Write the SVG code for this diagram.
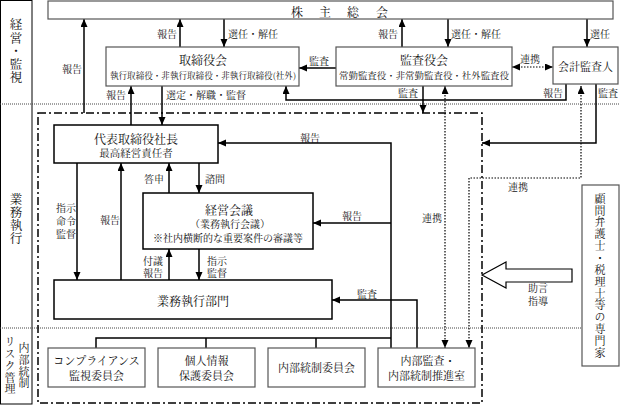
<svg xmlns="http://www.w3.org/2000/svg" width="620" height="406" viewBox="0 0 620 406">
<style>
.box{fill:#fff;stroke:#555;stroke-width:1.2}
.bb{fill:#fff;stroke:#000;stroke-width:1.5}
.c{fill:none;stroke:#000;stroke-width:1.5}
.d{fill:none;stroke:#000;stroke-width:1.2;stroke-dasharray:1.5 1.5}
.sep{fill:none;stroke:#444;stroke-width:1;stroke-dasharray:1 1}
.frame{fill:none;stroke:#000;stroke-width:1.5;stroke-dasharray:8 3 2 3}
text{font-family:"Noto Serif CJK JP","Noto Sans CJK JP","Noto Sans CJK SC",sans-serif;fill:#111;text-anchor:middle;dominant-baseline:central}
.vt{writing-mode:vertical-rl}
.l{font-size:10px}
.t{font-size:12px}
.s{font-size:9px}
.m{font-size:11px}
.v{font-size:12.5px}
</style>
<defs>
<marker id="a" markerUnits="userSpaceOnUse" markerWidth="9" markerHeight="9" refX="8" refY="3.5" orient="auto-start-reverse"><path d="M0,0 L8,3.5 L0,7 z" fill="#000"/></marker>
</defs>

<g id="background">
<rect x="0.5" y="0.5" width="31.5" height="403.5" fill="none" stroke="#000" stroke-width="1"/>
<line class="sep" x1="0" y1="104" x2="620" y2="104"/>
<line class="sep" x1="0" y1="328" x2="582" y2="328"/>
<path class="frame" d="M38,113 H482 V403 H38 Z"/>
<text class="v vt" x="16" y="51.5" style="letter-spacing:0.75px">経営・監視</text>
<text class="v vt" x="16" y="219" style="letter-spacing:0.3px">業務執行</text>
<text class="m vt" x="24" y="366" style="letter-spacing:0.7px">内部統制</text>
<text class="m vt" x="10" y="366" style="letter-spacing:0.75px">リスク管理</text>
</g>

<g id="connectors">
<path class="c" d="M180,47 V19" marker-end="url(#a)"/>
<path class="c" d="M224,19 V47" marker-end="url(#a)"/>
<path class="c" d="M84,113 V19" marker-end="url(#a)"/>
<path class="c" d="M131,125 V86" marker-end="url(#a)"/>
<path class="c" d="M162,86 V125" marker-end="url(#a)"/>
<path class="c" d="M336,68 H299" marker-end="url(#a)"/>
<path class="c" d="M402,47 V19" marker-end="url(#a)"/>
<path class="c" d="M448,19 V47" marker-end="url(#a)"/>
<path class="c" d="M587,19 V47" marker-end="url(#a)"/>
<path class="d" d="M512,67 H553" marker-start="url(#a)" marker-end="url(#a)"/>
<path class="c" d="M566,84 V100 H286 V86" marker-end="url(#a)"/>
<path class="c" d="M423,86 V113" marker-end="url(#a)"/>
<path class="c" d="M596,84 V143 H482" marker-end="url(#a)"/>
<path class="d" d="M445,86 V348" marker-start="url(#a)" marker-end="url(#a)"/>
<path class="d" d="M581,86 V178 H469 V348" marker-start="url(#a)" marker-end="url(#a)"/>
<path class="c" d="M77,163 V280" marker-end="url(#a)"/>
<path class="c" d="M121,280 V163" marker-end="url(#a)"/>
<path class="c" d="M169,193 V163" marker-end="url(#a)"/>
<path class="c" d="M199,163 V193" marker-end="url(#a)"/>
<path class="c" d="M169,280 V249" marker-end="url(#a)"/>
<path class="c" d="M199,249 V280" marker-end="url(#a)"/>
<path class="c" d="M391,349 V143 H218" marker-end="url(#a)"/>
<path class="c" d="M391,223 H313" marker-end="url(#a)"/>
<path class="c" d="M417,348 V300 H332" marker-end="url(#a)"/>
<path class="c" d="M96,349 V338 H391 M206,338 V349 M316,338 V349"/>
<polygon points="482,275 506,262 506,269 572,269 572,282 506,282 506,288" fill="#fff" stroke="#000" stroke-width="1.2"/>
<text class="l" x="167" y="33">報告</text>
<text class="l" x="228" y="33" style="text-anchor:start">選任・解任</text>
<text class="l" x="72" y="68">報告</text>
<text class="l" x="116" y="94">報告</text>
<text class="l" x="166" y="94" style="text-anchor:start">選定・解職・監督</text>
<text class="l" x="319" y="60">監査</text>
<text class="l" x="388" y="33">報告</text>
<text class="l" x="451" y="33" style="text-anchor:start">選任・解任</text>
<text class="l" x="590" y="33" style="text-anchor:start">選任</text>
<text class="l" x="530" y="58">連携</text>
<text class="l" x="408" y="92">監査</text>
<text class="l" x="553" y="92">報告</text>
<text class="l" x="608" y="92">監査</text>
<text class="l" x="310" y="137">報告</text>
<text class="l" x="352" y="215">報告</text>
<text class="l" x="432" y="217">連携</text>
<text class="l" x="518" y="186">連携</text>
<text class="l" x="154" y="178">答申</text>
<text class="l" x="215" y="178">諮問</text>
<text class="l"><tspan x="66" y="207">指示</tspan><tspan x="66" y="220">命令</tspan><tspan x="66" y="233">監督</tspan></text>
<text class="l" x="110" y="219">報告</text>
<text class="l"><tspan x="153" y="260">付議</tspan><tspan x="153" y="272">報告</tspan></text>
<text class="l"><tspan x="217" y="260">指示</tspan><tspan x="217" y="272">監督</tspan></text>
<text class="l" x="367" y="293">監査</text>
<text class="l"><tspan x="538" y="287">助言</tspan><tspan x="538" y="300">指導</tspan></text>
</g>

<g id="shareholders">
<rect class="box" x="48" y="1" width="565" height="18"/>
<text class="t" x="297 325 353 382" y="11">株主総会</text>
</g>
<g id="board">
<rect class="box" x="106" y="47" width="193" height="39"/>
<text class="t" x="203" y="59">取締役会</text>
<text class="s" x="203" y="75" textLength="186" lengthAdjust="spacingAndGlyphs">執行取締役・非執行取締役・非執行取締役(社外)</text>
</g>
<g id="auditors">
<rect class="box" x="336" y="47" width="176" height="39"/>
<text class="t" x="424" y="59">監査役会</text>
<text class="s" x="424" y="75" textLength="170" lengthAdjust="spacingAndGlyphs">常勤監査役・非常勤監査役・社外監査役</text>
</g>
<g id="accounting-auditor">
<rect class="box" x="553" y="47" width="65" height="37"/>
<text class="m" x="585.5" y="66">会計監査人</text>
</g>
<g id="ceo">
<rect class="bb" x="54" y="125" width="164" height="38"/>
<text class="t" x="136" y="138">代表取締役社長</text>
<text style="font-size:10.5px" x="136" y="152">最高経営責任者</text>
</g>
<g id="management-meeting">
<rect class="bb" x="143" y="193" width="170" height="56"/>
<text class="t" x="229" y="209">経営会議</text>
<text class="l" x="230" y="223">（業務執行会議）</text>
<text class="l" x="228" y="237">※社内横断的な重要案件の審議等</text>
</g>
<g id="business-division">
<rect class="bb" x="54" y="280" width="278" height="39"/>
<text class="t" x="193" y="300">業務執行部門</text>
</g>
<g id="compliance">
<rect class="box" x="48" y="348" width="97" height="39"/>
<text class="m"><tspan x="96.5" y="360">コンプライアンス</tspan><tspan x="96.5" y="375">監視委員会</tspan></text>
</g>
<g id="privacy">
<rect class="box" x="158" y="348" width="97" height="39"/>
<text class="m"><tspan x="206.5" y="360">個人情報</tspan><tspan x="206.5" y="375">保護委員会</tspan></text>
</g>
<g id="internal-control">
<rect class="box" x="268" y="348" width="97" height="39"/>
<text class="m" x="316.5" y="367">内部統制委員会</text>
</g>
<g id="internal-audit">
<rect class="box" x="378" y="348" width="97" height="39"/>
<text class="m"><tspan x="428" y="360">内部監査・</tspan><tspan x="426.5" y="375">内部統制推進室</tspan></text>
</g>
<g id="experts">
<rect class="box" x="582" y="185" width="37" height="181"/>
<text class="m vt" x="600" y="276" style="letter-spacing:0.85px">顧問弁護士・税理士等の専門家</text>
</g>
</svg>
